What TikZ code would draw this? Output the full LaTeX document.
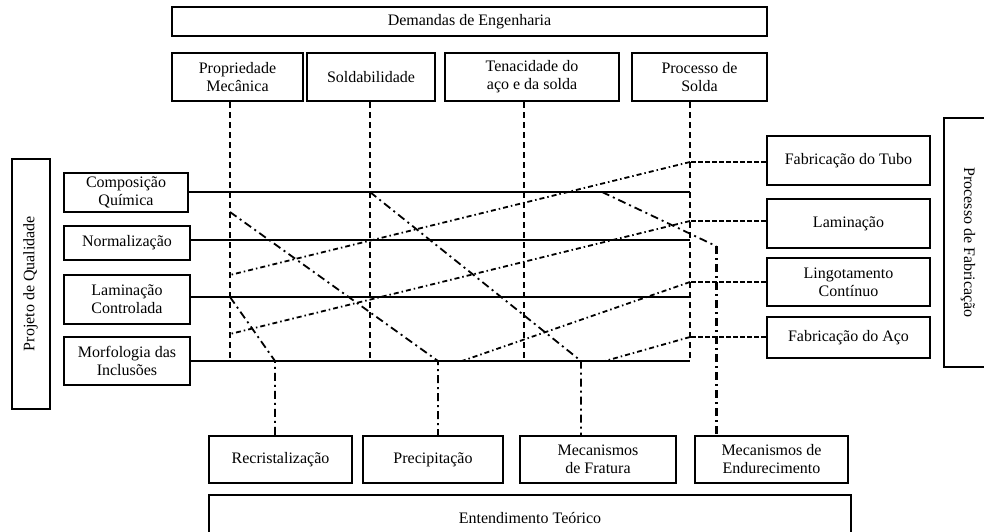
\documentclass[tikz,border=0pt]{standalone}
\usepackage{fontspec}
\setmainfont{Liberation Serif}
\newcommand{\caixafonte}{\fontsize{16}{18}\selectfont}
\tikzset{
  caixa/.style={draw, line width=2pt, inner sep=0pt, align=center, font=\caixafonte},
  ligacao/.style={line width=2pt},
  tracejado/.style={line width=2pt, dash pattern=on 6pt off 4pt},
  processo/.style={line width=2pt, dash pattern=on 5pt off 2pt},
  pontilhado/.style={line width=1.8pt, dash pattern=on 5pt off 3pt on 1.5pt off 3pt},
  teoria/.style={line width=1.8pt, dash pattern=on 8pt off 4pt on 2pt off 4pt},
}
\begin{document}
\begin{tikzpicture}[x=1pt,y=-1pt]
  \useasboundingbox (0,0) rectangle (984,531);
  %\draw[help lines] (0,0) grid[step=50] (984,531);
  % demandas de engenharia
  \node[caixa, minimum width=595pt, minimum height=29pt] (demandas) at (469.5,21.5) {Demandas de Engenharia};
  \node[caixa, minimum width=131pt, minimum height=48pt] (propriedade) at (237.5,77) {Propriedade\\Mecânica};
  \node[caixa, minimum width=128pt, minimum height=48pt] (soldabilidade) at (371,77) {Soldabilidade};
  \node[caixa, minimum width=174pt, minimum height=48pt] (tenacidade) at (532,77) {Tenacidade do\\aço e da solda};
  \node[caixa, minimum width=135pt, minimum height=48pt] (solda) at (699.5,77) {Processo de\\Solda};
  % projeto de qualidade
  \node[caixa, rotate=90, minimum width=250pt, minimum height=38pt] (qualidade) at (30.5,283.5) {Projeto de Qualidade};
  \node[caixa, minimum width=124pt, minimum height=39pt] (composicao) at (126,192.5) {Composição\\Química};
  \node[caixa, minimum width=126pt, minimum height=34pt] (normalizacao) at (127,243) {Normalização};
  \node[caixa, minimum width=126pt, minimum height=49pt] (controlada) at (127,299.5) {Laminação\\Controlada};
  \node[caixa, minimum width=126pt, minimum height=48pt] (morfologia) at (127,361) {Morfologia das\\Inclusões};
  % processo de fabricacao
  \node[caixa, rotate=-90, minimum width=249pt, minimum height=48pt] (fabricacao) at (968,242.5) {Processo de Fabricação};
  \node[caixa, minimum width=163pt, minimum height=49pt] (tubo) at (848.5,160.5) {Fabricação do Tubo};
  \node[caixa, minimum width=163pt, minimum height=49pt] (laminacao) at (848.5,223.5) {Laminação};
  \node[caixa, minimum width=163pt, minimum height=48pt] (lingotamento) at (848.5,282) {Lingotamento\\Contínuo};
  \node[caixa, minimum width=163pt, minimum height=41pt] (aco) at (848.5,337.5) {Fabricação do Aço};
  % entendimento teorico
  \node[caixa, minimum width=143pt, minimum height=47pt] (recristalizacao) at (280.5,459.5) {Recristalização};
  \node[caixa, minimum width=140pt, minimum height=47pt] (precipitacao) at (433,459.5) {Precipitação};
  \node[caixa, minimum width=156pt, minimum height=47pt] (fratura) at (598,459.5) {Mecanismos\\de Fratura};
  \node[caixa, line width=2.8pt, minimum width=153pt, minimum height=47pt] (endurecimento) at (771.5,459.5) {Mecanismos de\\Endurecimento};
  \node[caixa, minimum width=642pt, minimum height=46pt] (entendimento) at (530,518) {Entendimento Teórico};
  % pontos da malha
  \coordinate (c1) at (230,361);
  \coordinate (c2) at (370,361);
  \coordinate (c3) at (524,361);
  \coordinate (c4) at (690,361);
  \coordinate (h1) at (690,192);
  \coordinate (h2) at (690,240);
  \coordinate (h3) at (690,297);
  \coordinate (k1) at (690,162);
  \coordinate (k2) at (690,221);
  \coordinate (k3) at (690,282);
  \coordinate (k4) at (690,337);
  \coordinate (a1) at (230,275);
  \coordinate (a2) at (230,334);
  \coordinate (a3) at (462,361);
  \coordinate (a4) at (605,361);
  \coordinate (b1) at (230,297);
  \coordinate (b2) at (230,212);
  \coordinate (b3) at (370,192);
  \coordinate (b4) at (602,192);
  \coordinate (m1) at (275,361);
  \coordinate (m2) at (438,361);
  \coordinate (m3) at (581,361);
  \coordinate (m4) at (716,246);
  % linhas horizontais
  \draw[ligacao] (composicao.east |- h1) -- (h1);
  \draw[ligacao] (normalizacao.east |- h2) -- (h2);
  \draw[ligacao] (controlada.east |- h3) -- (h3);
  \draw[ligacao] (morfologia.east |- c4) -- (c4);
  % linhas verticais
  \draw[tracejado] (propriedade.south -| c1) -- (c1);
  \draw[tracejado] (soldabilidade.south -| c2) -- (c2);
  \draw[tracejado] (tenacidade.south -| c3) -- (c3);
  \draw[tracejado] (solda.south -| c4) -- (c4);
  % processo de fabricacao
  \draw[processo] (tubo.west |- k1) -- (k1);
  \draw[pontilhado] (k1) -- (a1);
  \draw[processo] (laminacao.west |- k2) -- (k2);
  \draw[pontilhado] (k2) -- (a2);
  \draw[processo] (lingotamento.west |- k3) -- (k3);
  \draw[pontilhado] (k3) -- (a3);
  \draw[processo] (aco.west |- k4) -- (k4);
  \draw[pontilhado] (k4) -- (a4);
  % entendimento teorico
  \draw[teoria] (b1) -- (m1) -- (recristalizacao.north -| m1);
  \draw[teoria] (b2) -- (m2) -- (precipitacao.north -| m2);
  \draw[teoria] (b3) -- (m3) -- (fratura.north -| m3);
  \draw[teoria] (b4) -- (m4);
  \draw[teoria, line width=3pt] (m4) -- (endurecimento.north -| m4);
\end{tikzpicture}
\end{document}
